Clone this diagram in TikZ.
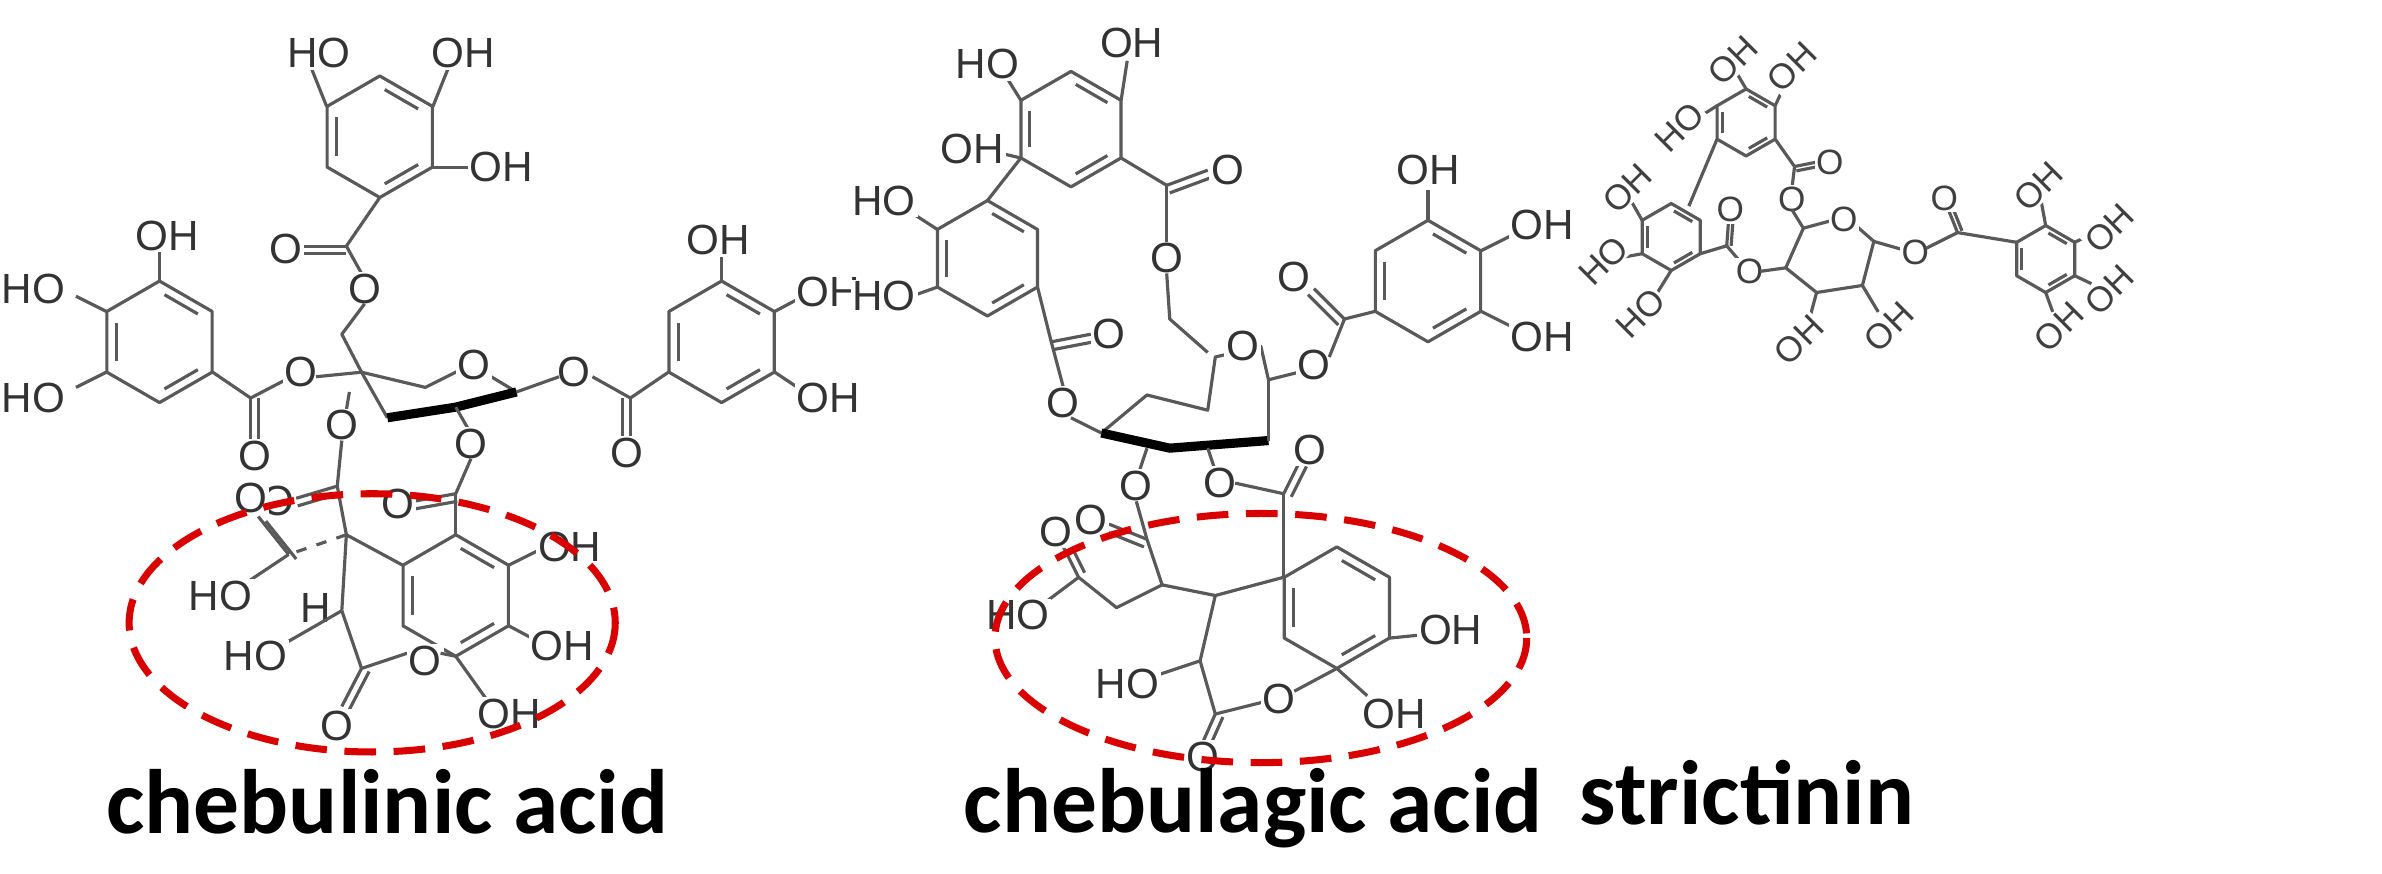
\documentclass[tikz,border=0pt]{standalone}
\usepackage{fontspec}
\setmainfont{Liberation Sans}
\newfontfamily\capfont{Carlito}
\begin{document}
\begin{tikzpicture}[x=0.01519cm,y=-0.01519cm,
  bond/.style={line width=0.9pt,line join=round,draw=black!65},
  wedge/.style={line width=2.6pt,draw=black},
  atom/.style={font=\fontsize{12}{13}\selectfont,fill=white,inner sep=0.5pt,text=black!80},
  satom/.style={font=\fontsize{10}{11}\selectfont,fill=white,inner sep=0.4pt,text=black!75},
  caption/.style={font=\capfont\bfseries\fontsize{26}{30}\selectfont},
  ring/.style={red!85!black,line width=2pt,dash pattern=on 9pt off 5pt}]
\newcommand{\hexr}[3]{%
  \draw[bond] (#1,#2) +(30:#3) -- +(90:#3) -- +(150:#3) -- +(210:#3) -- +(270:#3) -- +(330:#3) -- cycle;
  \draw[bond] (#1,#2) +(36:0.78*#3) -- +(84:0.78*#3);
  \draw[bond] (#1,#2) +(156:0.78*#3) -- +(204:0.78*#3);
  \draw[bond] (#1,#2) +(276:0.78*#3) -- +(324:0.78*#3);}
\useasboundingbox (0,0) rectangle (1568,575);
\fill[white] (0,0) rectangle (1568,575);

% ================= chebulinic acid =================
\begin{scope}
\hexr{250}{90}{40}
\hexr{105}{225}{40}
\hexr{475}{225}{40}
\hexr{300}{392}{40}
\draw[bond] (215,70) -- (205,45); \node[atom] (a2) at (210,35) {HO};
\draw[bond] (285,70) -- (295,45); \node[atom] (a1) at (305,35) {OH};
\draw[bond] (285,110) -- (310,110); \node[atom] (a3) at (330,110) {OH};
\draw[bond] (250,130) -- (228,162);
\draw[bond] (228,162) -- (200,162); \draw[bond] (228,167) -- (200,167); \node[atom] (a4) at (188,164) {O};
\draw[bond] (228,162) -- (238,180); \node[atom] (a5) at (240,190) {O};
\draw[bond] (240,200) -- (225,220) -- (238,245);
\draw[bond] (105,185) -- (105,165); \node[atom] (a6) at (110,155) {OH};
\draw[bond] (70,205) -- (50,195); \node[atom] (a7) at (22,190) {HO};
\draw[bond] (70,245) -- (50,255); \node[atom] (a8) at (22,262) {HO};
\draw[bond] (140,245) -- (165,262) -- (188,250);
\draw[bond] (165,262) -- (165,290); \draw[bond] (170,262) -- (170,290); \node[atom] (a9) at (168,300) {O};
\node[atom] (a10) at (198,245) {O};
\draw[bond] (475,185) -- (475,168); \node[atom] (a11) at (473,158) {OH};
\draw[bond] (510,205) -- (525,197); \node[atom] (a12) at (545,192) {OH};
\draw[bond] (510,245) -- (525,255); \node[atom] (a13) at (545,262) {OH};
\draw[bond] (440,245) -- (415,262) -- (390,248);
\draw[bond] (415,262) -- (415,290); \draw[bond] (410,262) -- (410,290); \node[atom] (a14) at (413,298) {O};
\node[atom] (a15) at (378,245) {O};
% sugar
\draw[bond] (208,248) -- (238,245);
\draw[bond] (238,245) -- (280,255) -- (310,240) -- (340,258);
\draw[bond] (238,245) -- (255,275);
\draw[wedge] (255,275) -- (300,268) -- (340,258);
\node[atom] (a16) at (312,240) {O};
\draw[bond] (340,258) -- (368,248);
\draw[bond] (230,258) -- (228,270); \node[atom] (a17) at (225,280) {O};
\draw[bond] (300,268) -- (308,282); \node[atom] (a18) at (310,292) {O};
% chebuloyl
\draw[bond] (225,290) -- (222,320);
\draw[bond] (222,320) -- (195,328); \draw[bond] (223,325) -- (196,333); \node[atom] (a19) at (183,330) {O};
\draw[bond] (310,302) -- (300,325);
\draw[bond] (300,325) -- (272,330); \draw[bond] (301,330) -- (273,335); \node[atom] (a20) at (262,332) {O};
\draw[bond] (300,325) -- (300,352);
\draw[bond] (222,320) -- (228,352);
\draw[bond] (228,352) -- (265,372);
\draw[bond,dashed] (228,352) -- (190,365);
\draw[bond] (190,365) -- (170,340); \draw[bond] (195,368) -- (175,343);
\node[atom] (a21) at (165,328) {O};
\draw[bond] (190,365) -- (160,385); \node[atom] (a22) at (145,392) {HO};
\draw[bond] (228,352) -- (225,402);
\node[atom] (a23) at (208,400) {H};
\draw[bond] (225,402) -- (238,440) -- (268,430);
\draw[bond] (225,402) -- (185,425); \node[atom] (a24) at (168,432) {HO};
\draw[bond] (238,440) -- (225,465); \draw[bond] (243,442) -- (230,467); \node[atom] (a25) at (222,478) {O};
\node[atom] (a26) at (280,435) {O};
\draw[bond] (290,430) -- (300,432);
\draw[bond] (335,412) -- (350,420); \node[atom] (a27) at (370,425) {OH};
\draw[bond] (335,372) -- (355,362); \node[atom] (a28) at (375,360) {OH};
\draw[bond] (300,432) -- (320,460); \node[atom] (a29) at (335,470) {OH};
\draw[ring] (245,410) ellipse [x radius=160, y radius=85];
\node[caption] (c1) at (255,528) {chebulinic acid};
\end{scope}

% ================= chebulagic acid =================
\begin{scope}
\hexr{705}{85}{38}
\hexr{650}{170}{38}
\hexr{940}{185}{40}
\hexr{880}{400}{40}
\draw[bond] (738,66) -- (742,40); \node[atom] (b1) at (745,28) {OH};
\draw[bond] (672,66) -- (662,50); \node[atom] (b2) at (650,42) {HO};
\draw[bond] (672,104) -- (655,100); \node[atom] (b3) at (640,98) {OH};
\draw[bond] (617,151) -- (600,140); \node[atom] (b4) at (582,132) {HO};
\draw[bond] (617,189) -- (600,195); \node[atom] (b5) at (582,195) {HO};
\draw[bond] (650,132) -- (672,104);
\draw[bond] (738,104) -- (768,122);
\draw[bond] (768,122) -- (795,112); \draw[bond] (770,127) -- (797,117); \node[atom] (b6) at (808,112) {O};
\draw[bond] (768,122) -- (768,160); \node[atom] (b7) at (768,170) {O};
\draw[bond] (768,180) -- (770,210) -- (795,232);
\draw[bond] (683,189) -- (692,225);
\draw[bond] (692,225) -- (718,220); \draw[bond] (694,230) -- (720,225); \node[atom] (b8) at (730,220) {O};
\draw[bond] (692,225) -- (700,255); \node[atom] (b9) at (700,265) {O};
% sugar
\draw[bond] (705,275) -- (725,285);
\draw[bond] (725,285) -- (755,260) -- (795,270) -- (800,235) -- (830,228) -- (835,250);
\draw[wedge] (725,285) -- (770,295) -- (835,290);
\draw[bond] (835,290) -- (835,250);
\node[atom] (b10) at (818,228) {O};
\draw[bond] (835,250) -- (855,245); \node[atom] (b11) at (865,240) {O};
\draw[bond] (875,235) -- (885,210);
\draw[bond] (885,210) -- (905,205);
\draw[bond] (885,210) -- (865,190); \draw[bond] (881,214) -- (861,194); \node[atom] (b12) at (852,182) {O};
\draw[bond] (940,145) -- (940,125); \node[atom] (b13) at (940,112) {OH};
\draw[bond] (975,165) -- (995,155); \node[atom] (b14) at (1015,148) {OH};
\draw[bond] (975,205) -- (995,215); \node[atom] (b15) at (1015,222) {OH};
% lower
\draw[bond] (755,295) -- (750,310); \node[atom] (b16) at (748,320) {O};
\draw[bond] (795,295) -- (800,310); \node[atom] (b17) at (803,318) {O};
\draw[bond] (748,330) -- (755,355);
\draw[bond] (755,355) -- (730,345); \draw[bond] (753,360) -- (728,350); \node[atom] (b18) at (718,342) {O};
\draw[bond] (813,318) -- (845,325);
\draw[bond] (845,325) -- (855,305); \draw[bond] (850,327) -- (860,307); \node[atom] (b19) at (862,296) {O};
\draw[bond] (845,325) -- (845,380);
\draw[bond] (755,355) -- (765,385) -- (735,400) -- (710,380);
\draw[bond] (710,380) -- (700,360); \draw[bond] (714,377) -- (704,357); \node[atom] (b20) at (695,350) {O};
\draw[bond] (710,380) -- (690,395); \node[atom] (b21) at (670,405) {HO};
\draw[bond] (765,385) -- (800,392) -- (845,380);
\draw[bond] (800,392) -- (790,435) -- (800,470) -- (832,462);
\draw[bond] (790,435) -- (760,445); \node[atom] (b22) at (742,450) {HO};
\draw[bond] (800,470) -- (792,488); \draw[bond] (805,472) -- (797,490); \node[atom] (b23) at (792,498) {O};
\node[atom] (b24) at (842,460) {O}; \draw[bond] (852,455) -- (880,440);
\draw[bond] (915,420) -- (935,418); \node[atom] (b25) at (955,415) {OH};
\draw[bond] (880,440) -- (900,458); \node[atom] (b26) at (918,470) {OH};
\draw[ring] (830,420) ellipse [x radius=175, y radius=82];
\node[caption] (c2) at (825,532) {chebulagic acid};
\end{scope}

% ================= strictinin =================
\begin{scope}[shift={(1045,40)}]
\begin{scope}[scale=0.58, shift={(-1440,-45)}]
\hexr{1620}{115}{38}
\hexr{1535}{245}{38}
\hexr{1960}{270}{38}
\draw[bond] (1620,77) -- (1610,60); \node[satom,rotate=45] (s1) at (1605,45) {OH};
\draw[bond] (1653,96) -- (1665,70); \node[satom,rotate=45] (s2) at (1672,52) {OH};
\draw[bond] (1587,96) -- (1565,110); \node[satom,rotate=45] (s3) at (1545,120) {HO};
\draw[bond] (1587,134) -- (1555,210);
\draw[bond] (1502,226) -- (1490,205); \node[satom,rotate=45] (s4) at (1485,190) {OH};
\draw[bond] (1502,264) -- (1480,268); \node[satom,rotate=45] (s5) at (1458,272) {HO};
\draw[bond] (1535,283) -- (1515,315); \node[satom,rotate=45] (s6) at (1500,332) {HO};
\draw[bond] (1653,134) -- (1675,165);
\draw[bond] (1675,165) -- (1700,160); \draw[bond] (1677,170) -- (1702,165); \node[satom] (s7) at (1715,160) {O};
\draw[bond] (1675,165) -- (1672,190); \node[satom] (s8) at (1672,202) {O};
\draw[bond] (1568,264) -- (1598,255);
\draw[bond] (1598,255) -- (1600,228); \draw[bond] (1603,255) -- (1605,228); \node[satom] (s9) at (1602,214) {O};
\draw[bond] (1598,255) -- (1615,275); \node[satom] (s10) at (1624,284) {O};
% sugar
\draw[bond] (1672,214) -- (1685,235) -- (1722,225);
\draw[bond] (1740,228) -- (1765,250) -- (1752,300) -- (1700,308) -- (1665,280) -- (1685,235);
\node[satom] (s11) at (1731,225) {O};
\draw[bond] (1636,284) -- (1665,280);
\draw[bond] (1700,308) -- (1690,345); \node[satom,rotate=45] (s12) at (1680,362) {OH};
\draw[bond] (1752,300) -- (1770,330); \node[satom,rotate=45] (s13) at (1782,347) {OH};
\draw[bond] (1765,250) -- (1800,260); \node[satom] (s14) at (1812,262) {O};
\draw[bond] (1824,258) -- (1860,240) -- (1927,251);
\draw[bond] (1860,240) -- (1850,215); \draw[bond] (1865,238) -- (1855,213); \node[satom] (s15) at (1845,201) {O};
\draw[bond] (1960,232) -- (1955,205); \node[satom,rotate=45] (s16) at (1952,188) {OH};
\draw[bond] (1993,251) -- (2012,242); \node[satom,rotate=45] (s17) at (2032,235) {OH};
\draw[bond] (1993,289) -- (2012,298); \node[satom,rotate=45] (s18) at (2032,305) {OH};
\draw[bond] (1960,308) -- (1968,330); \node[satom,rotate=45] (s19) at (1975,347) {OH};
\end{scope}
\end{scope}
\node[caption] (c3) at (1150,522) {strictinin};
\end{tikzpicture}
\end{document}
